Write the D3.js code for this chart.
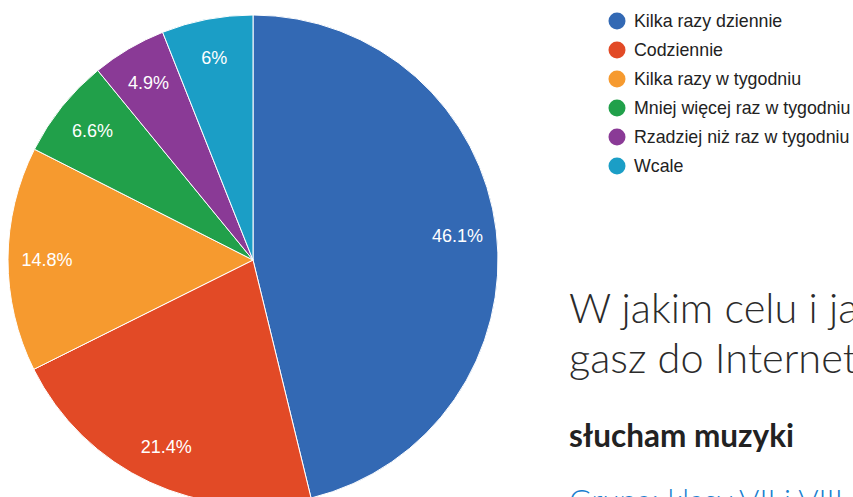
<!DOCTYPE html>
<html>
<head>
<meta charset="utf-8">
<script src="https://cdn.jsdelivr.net/npm/d3@7"></script>
<style>
  html, body { margin: 0; padding: 0; background: #fff; overflow: hidden; }
  svg { display: block; }
</style>
</head>
<body>
<svg id="chart" width="853" height="497"></svg>
<script>
// Answer categories and their shares (percent)
const categories = [
  "Kilka razy dziennie",
  "Codziennie",
  "Kilka razy w tygodniu",
  "Mniej więcej raz w tygodniu",
  "Rzadziej niż raz w tygodniu",
  "Wcale"
];
const shares = [46.1, 21.4, 14.8, 6.6, 4.9, 6];
const sliceColors = ["#3369b4", "#e24a26", "#f69a2f", "#21a04a", "#8a3a96", "#1b9ec6"];
const shareLabels = ["46.1%", "21.4%", "14.8%", "6.6%", "4.9%", "6%"];

const titleLines = ["W jakim celu i jak często zaglą-", "gasz do Internetu?"];
const subtitle = "słucham muzyki";
const groupText = "Grupa: klasy VII i VIII";

const svg = d3.select("#chart");

const cx = 253, cy = 260, R = 245, labelR = 206;

const data = categories.map((c, i) => ({ name: c, value: shares[i], label: shareLabels[i], color: sliceColors[i] }));

const pie = d3.pie().value(d => d.value).sort(null);
const arc = d3.arc().innerRadius(0).outerRadius(R);
const labelArc = d3.arc().innerRadius(labelR).outerRadius(labelR);

const g = svg.append("g").attr("transform", `translate(${cx},${cy})`);
const arcs = pie(data);

g.selectAll("path.slice")
  .data(arcs)
  .enter().append("path")
  .attr("class", "slice")
  .attr("d", arc)
  .attr("fill", d => d.data.color)
  .attr("stroke", "#fff")
  .attr("stroke-width", 1);

g.selectAll("text.pct")
  .data(arcs)
  .enter().append("text")
  .attr("class", "pct")
  .attr("transform", d => `translate(${labelArc.centroid(d)})`)
  .attr("text-anchor", "middle")
  .attr("dy", "0.36em")
  .attr("fill", "#fff")
  .style("font-family", "Arial, 'Liberation Sans', sans-serif")
  .style("font-size", "18px")
  .text(d => d.data.label);

// Legend
const legendY = d3.scalePoint().domain(categories).range([21, 166]);
const legend = svg.append("g");
const items = legend.selectAll("g.item")
  .data(data)
  .enter().append("g")
  .attr("class", "item")
  .attr("transform", d => `translate(617,${legendY(d.name)})`);
items.append("circle").attr("r", 8.5).attr("fill", d => d.color);
items.append("text")
  .attr("x", 17)
  .attr("dy", "0.36em")
  .attr("fill", "#222")
  .style("font-family", "Arial, 'Liberation Sans', sans-serif")
  .style("font-size", "17.8px")
  .text(d => d.name);

// Page text beside the chart
const title = svg.append("text")
  .attr("x", 569)
  .attr("fill", "#2b2b2b")
  .style("font-family", "Lato, sans-serif")
  .style("font-weight", "300")
  .style("font-size", "41.5px");
title.selectAll("tspan")
  .data(titleLines)
  .enter().append("tspan")
  .attr("x", 569)
  .attr("y", (d, i) => 323 + i * 50)
  .text(d => d);

svg.append("text")
  .attr("x", 569)
  .attr("y", 447)
  .attr("fill", "#222")
  .style("font-family", "Lato, sans-serif")
  .style("font-weight", "700")
  .style("font-size", "31.5px")
  .text(subtitle);

svg.append("text")
  .attr("x", 569)
  .attr("y", 512)
  .attr("fill", "#1a7fd0")
  .style("font-family", "Lato, sans-serif")
  .style("font-weight", "300")
  .style("font-size", "31px")
  .text(groupText);
</script>
</body>
</html>
